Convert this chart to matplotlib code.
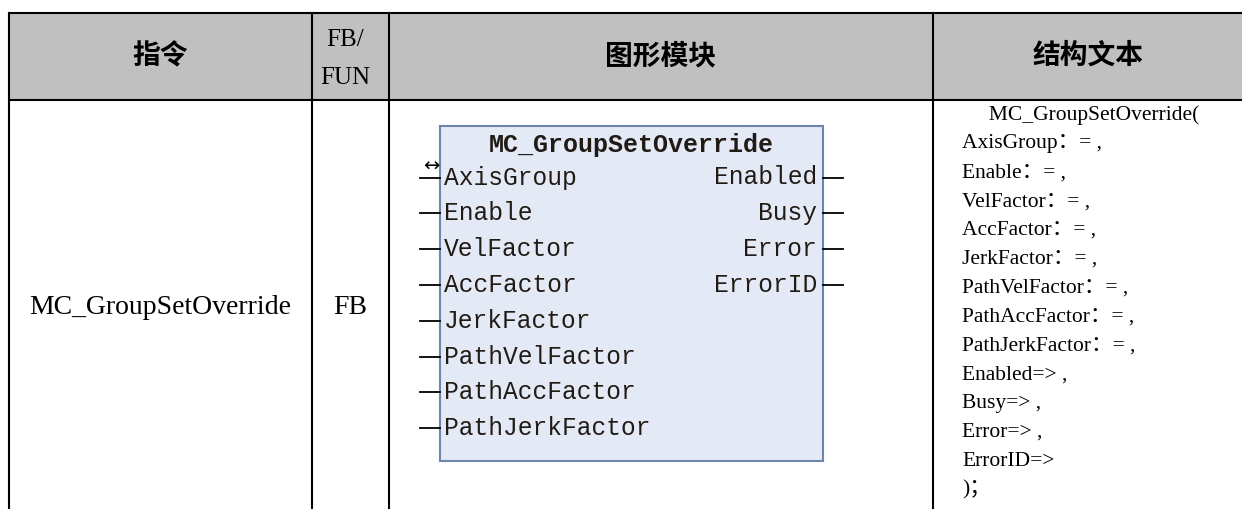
import matplotlib
matplotlib.use("Agg")
import matplotlib.pyplot as plt
from matplotlib.patches import Rectangle

# table content
headers = ["指令", "FB/\nFUN", "图形模块", "结构文本"]
instruction = "MC_GroupSetOverride"
fb_type = "FB"
block_title = "MC_GroupSetOverride"
inputs = ["AxisGroup", "Enable", "VelFactor", "AccFactor", "JerkFactor",
          "PathVelFactor", "PathAccFactor", "PathJerkFactor"]
outputs = ["Enabled", "Busy", "Error", "ErrorID"]
st_lines = ["     MC_GroupSetOverride(",
            "AxisGroup：= ,", "Enable：= ,", "VelFactor：= ,", "AccFactor：= ,",
            "JerkFactor：= ,", "PathVelFactor：= ,", "PathAccFactor：= ,",
            "PathJerkFactor：= ,", "Enabled=> ,", "Busy=> ,", "Error=> ,",
            "ErrorID=>", ")；"]

W, H = 1242, 509
fig = plt.figure(figsize=(W / 100, H / 100), dpi=100)
ax = fig.add_axes([0, 0, 1, 1])
ax.set_xlim(0, W)
ax.set_ylim(H, 0)
ax.axis("off")

# layout (pixels); the right border sits just outside the picture
col_x = [9, 312, 388.5, 933, 1244]
top, head_bot, bot = 13, 100, 515
lw = 1.5

ax.add_patch(Rectangle((col_x[0], top), col_x[-1] - col_x[0], head_bot - top,
                       facecolor="#c0c0c0", edgecolor="none"))
ax.plot([col_x[0], col_x[-1]], [top, top], color="black", lw=lw)
ax.plot([col_x[0], col_x[-1]], [head_bot, head_bot], color="black", lw=lw)
for x in col_x:
    ax.plot([x, x], [top, bot], color="black", lw=lw)

cjk = ["Noto Sans CJK SC", "DejaVu Sans"]
serif = ["Liberation Serif", "Noto Sans CJK SC"]
for i, h in enumerate(headers):
    cx = (col_x[i] + col_x[i + 1]) / 2
    if "\n" in h:
        a, b = h.split("\n")
        ax.text(cx - 5, 40, a, ha="center", va="center", fontsize=18, family=serif)
        ax.text(cx - 5, 78, b, ha="center", va="center", fontsize=18, family=serif)
    else:
        ax.text(cx, 56, h, ha="center", va="center", fontsize=20,
                fontweight="bold", family=cjk)

ax.text((col_x[0] + col_x[1]) / 2, 307, instruction, ha="center", va="center",
        fontsize=20, family=serif)
ax.text((col_x[1] + col_x[2]) / 2, 307, fb_type, ha="center", va="center",
        fontsize=20, family=serif)

# function block graphic
bx0, bx1, by0, by1 = 440, 823, 126, 461
ax.add_patch(Rectangle((bx0, by0), bx1 - bx0, by1 - by0, facecolor="#e3eaf6",
                       edgecolor="#6d86ae", lw=1.5))
mono = "Liberation Mono"
ink = "#221b15"
ax.text((bx0 + bx1) / 2, 145, block_title, ha="center", va="center",
        fontsize=18, family=mono, fontweight="bold", color=ink)
row0, step = 177.5, 35.8
for i, name in enumerate(inputs):
    y = row0 + i * step
    ax.plot([420, bx0], [y, y], color="black", lw=1.3)
    ax.text(bx0 + 4, y, name, ha="left", va="center", fontsize=17.7,
            family=mono, color=ink)
ax.text(431, row0 - 11, "↔", ha="center", va="center", fontsize=14,
        family="DejaVu Sans", color="black")
for i, name in enumerate(outputs):
    y = row0 + i * step
    ax.plot([bx1, 843], [y, y], color="black", lw=1.3)
    ax.text(bx1 - 6, y, name, ha="right", va="center", fontsize=17.7,
            family=mono, color=ink)

# structured text
st0, st_step = 115, 28.85
for i, line in enumerate(st_lines):
    ax.text(962, st0 + i * st_step, line, ha="left", va="center", fontsize=15.5,
            family=serif)

fig.savefig("out.png", dpi=100)
